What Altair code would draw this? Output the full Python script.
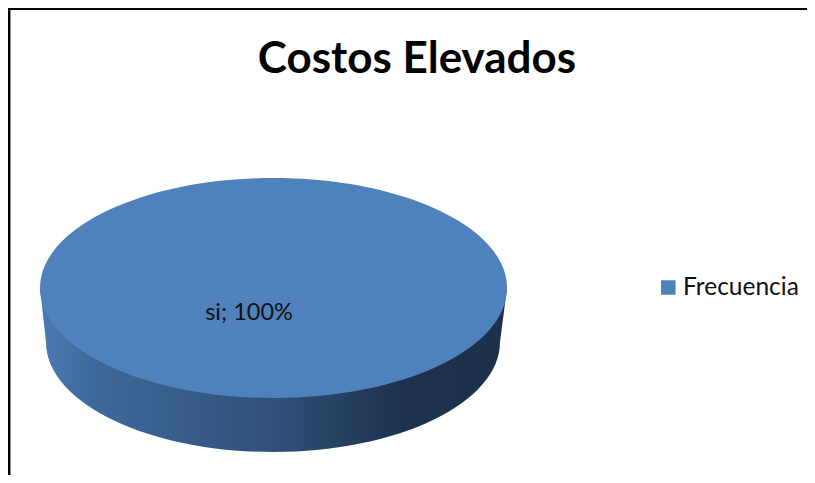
import altair as alt
import pandas as pd

titles = ["Costos Elevados"]
categories = ["si"]
values = [100]
series = ["Frecuencia"]

top_color = "#4f81bd"
FONT = "Lato"
OFF = 8  # page margin: reference pixel minus OFF gives the chart pixel
W, H = 799, 467

data = pd.DataFrame({"category": categories, "value": values, "series": series, "title": titles})
base = alt.Chart(data).transform_calculate(label="datum.category + '; ' + datum.value + '%'")

# Ellipse outlines as symbol shapes (size=4 gives a 1:1 path scale)
top_face = "M-233.5,0 A233.5,110 0 1,1 233.5,0 A233.5,110 0 1,1 -233.5,0 Z"
side_wall = "M-233.5,0 L-227.5,54 A227,110 0 0,0 226.5,54 L233.5,0 Z"

side_fill = alt.Gradient(
    gradient="linear", x1=0, x2=1, y1=0, y2=0,
    stops=[
        alt.GradientStop(color="#4a79b0", offset=0),
        alt.GradientStop(color="#3f6899", offset=0.12),
        alt.GradientStop(color="#2f5079", offset=0.5),
        alt.GradientStop(color="#1d324d", offset=0.78),
        alt.GradientStop(color="#1c304a", offset=1),
    ],
)

cx, cy = 273.5 - OFF, 288 - OFF
side = base.mark_point(shape=side_wall, size=4, filled=True, opacity=1, color=side_fill, strokeWidth=0).encode(
    x=alt.value(cx), y=alt.value(cy), detail="category:N")
face = base.mark_point(shape=top_face, size=4, filled=True, opacity=1, color=top_color, strokeWidth=0).encode(
    x=alt.value(cx), y=alt.value(cy), detail="category:N")

label = base.mark_text(font=FONT, fontSize=23.5, color="#111111", align="center", baseline="middle").encode(
    x=alt.value(249 - OFF), y=alt.value(313 - OFF), text="label:N")
title = base.mark_text(font=FONT, fontSize=44, fontWeight="bold", color="#000000", align="center", baseline="alphabetic").encode(
    x=alt.value(417 - OFF), y=alt.value(73 - OFF), text="title:N")
legend_sym = base.mark_square(size=210, color=top_color, opacity=1, strokeWidth=0).encode(
    x=alt.value(668.3 - OFF), y=alt.value(287.5 - OFF), detail="series:N")
legend_txt = base.mark_text(font=FONT, fontSize=24.5, color="#111111", align="left", baseline="middle").encode(
    x=alt.value(683 - OFF), y=alt.value(288 - OFF), text="series:N")

frame_left = base.mark_rule(color="#000000", strokeWidth=2).encode(
    x=alt.value(1), y=alt.value(0), y2=alt.value(H))
frame_shadow = base.mark_rule(color="#8a8a8a", strokeWidth=1).encode(
    x=alt.value(2.5), y=alt.value(2), y2=alt.value(H))
frame_top = base.mark_rule(color="#000000", strokeWidth=2).encode(
    y=alt.value(1), x=alt.value(0), x2=alt.value(W))

chart = alt.layer(
    frame_left, frame_shadow, frame_top, side, face, label, title, legend_sym, legend_txt
).properties(
    width=W, height=H, padding=0,
    autosize=alt.AutoSizeParams(type="none"),
).configure_view(stroke=None)

chart.save("out.html", embed_options={"renderer": "svg", "actions": False})
